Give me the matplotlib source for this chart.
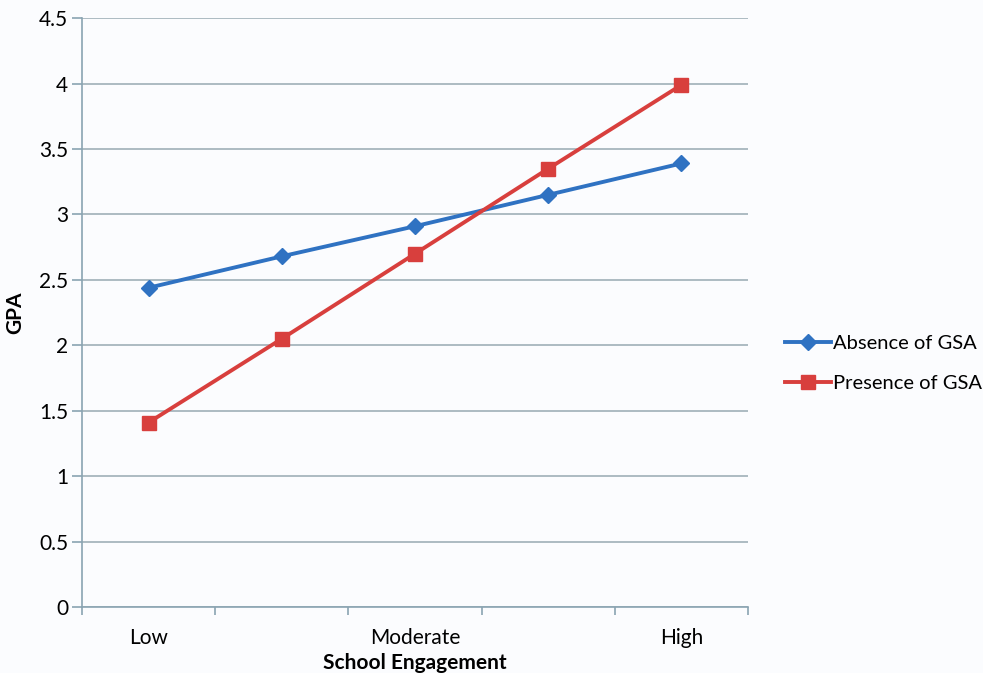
import matplotlib.pyplot as plt
import numpy as np

plt.rcParams["font.family"] = ["Lato", "DejaVu Sans"]

categories = ["Low", "", "Moderate", "", "High"]
absence = [2.44, 2.68, 2.91, 3.15, 3.39]
presence = [1.41, 2.05, 2.70, 3.35, 3.99]

AXIS_COLOR = "#8aa4b2"
BG = "#fbfcfe"

fig = plt.figure(figsize=(9.83, 6.73), dpi=100, facecolor=BG)
ax = fig.add_axes([0.0834, 0.098, 0.6776, 0.875], facecolor=BG)

x = np.arange(len(categories))
ax.plot(x, absence, color="#2f72c2", linewidth=2.8, marker="D", markersize=8,
        label="Absence of GSA")
ax.plot(x, presence, color="#d83f3d", linewidth=2.8, marker="s", markersize=10,
        label="Presence of GSA")

ax.set_xlim(-0.5, len(categories) - 0.5)
ax.set_ylim(0, 4.5)
ax.set_yticks(np.arange(0, 4.51, 0.5))
ax.set_yticklabels(["0", "0.5", "1", "1.5", "2", "2.5", "3", "3.5", "4", "4.5"])
ax.set_xticks(x)
ax.set_xticklabels(categories)
ax.set_xticks(np.arange(-0.5, len(categories), 1.0), minor=True)
ax.tick_params(axis="x", which="major", length=0, pad=15, labelsize=15)
ax.tick_params(axis="x", which="minor", length=6, color=AXIS_COLOR, width=1.2)
ax.tick_params(axis="y", length=7, color=AXIS_COLOR, width=1.2, labelsize=15, pad=3)

ax.grid(axis="y", color="#9fb0b8", linewidth=1.2)
ax.set_axisbelow(True)
for side in ["top", "right"]:
    ax.spines[side].set_visible(False)
for side in ["left", "bottom"]:
    ax.spines[side].set_color(AXIS_COLOR)
    ax.spines[side].set_linewidth(1.2)

ax.set_xlabel("School Engagement", fontsize=15, fontweight="bold", labelpad=4)
ax.set_ylabel("GPA", fontsize=15, fontweight="bold", labelpad=10)

fig.legend(loc="center left", bbox_to_anchor=(0.78, 0.46), frameon=False,
           fontsize=14.5, handlelength=2.3, handletextpad=0.1, labelspacing=1.1)

fig.savefig("out.png", dpi=100, facecolor=BG)
